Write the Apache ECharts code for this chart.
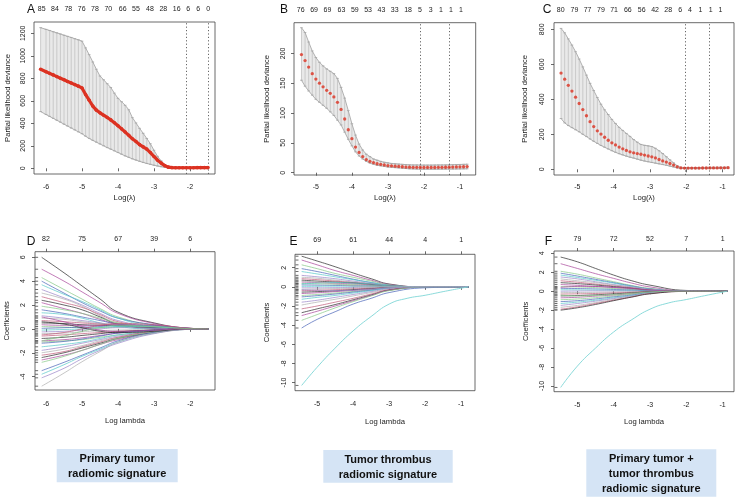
<!DOCTYPE html>
<html><head><meta charset="utf-8">
<script src="https://cdn.jsdelivr.net/npm/echarts@6/dist/echarts.min.js"></script>
<style>html,body{margin:0;padding:0;background:#fff}#c{width:739px;height:500px}</style>
</head><body><div id="c"></div>
<script>
// ---------- Panel A (CV, primary tumor) ----------
const xA = [-6.15,-6.0,-5.9,-5.8,-5.7,-5.6,-5.5,-5.4,-5.3,-5.2,-5.1,-5.0,-4.9,-4.8,-4.7,-4.6,-4.5,-4.4,-4.3,-4.2,-4.1,-4.0,-3.9,-3.8,-3.7,-3.6,-3.5,-3.4,-3.3,-3.2,-3.1,-3.0,-2.9,-2.8,-2.7,-2.6,-2.5,-2.4,-2.3,-2.2,-2.1,-2.0,-1.9,-1.8,-1.7,-1.6,-1.5];
const devA = [880,858,844,830,815,801,787,772,758,744,730,714,655,605,553,517,493,472,452,430,405,378,350,322,293,262,238,210,190,170,140,105,72,46,24,10,6,5,5,5,5,5,5,6,6,6,6];
const upA  = [1250,1235,1225,1214,1204,1194,1183,1173,1163,1152,1142,1130,1070,1010,945,880,820,787,752,718,668,622,592,560,520,450,403,355,311,265,218,160,106,66,32,14,10,9,9,9,9,9,9,9,9,10,10];
const loA  = [504,478,461,444,427,410,392,375,358,341,324,307,285,265,248,232,216,200,184,170,155,140,125,110,97,84,73,62,52,43,35,27,20,14,8,4,2,1,1,1,1,1,2,2,2,2,2];
const topPosA = [-6.12,-5.75,-5.38,-5.01,-4.64,-4.27,-3.87,-3.5,-3.11,-2.74,-2.37,-2.05,-1.77,-1.49];
const topLblA = ['85','84','78','76','78','70','66','55','48','28','16','6','6','0'];
const vlineA = [-2.11, -1.5];

// ---------- Panel B (CV, tumor thrombus) ----------
const xB = [-5.4,-5.3,-5.2,-5.1,-5.0,-4.9,-4.8,-4.7,-4.6,-4.5,-4.4,-4.3,-4.2,-4.1,-4.0,-3.9,-3.8,-3.7,-3.6,-3.5,-3.4,-3.3,-3.2,-3.1,-3.0,-2.9,-2.8,-2.7,-2.6,-2.5,-2.4,-2.3,-2.2,-2.1,-2.0,-1.9,-1.8,-1.7,-1.6,-1.5,-1.4,-1.3,-1.2,-1.1,-1.0,-0.9,-0.8];
const devB = [198,188,177,166,157,150,144,138,133,127,118,106,90,72,57,43,34,27,22,19,17,15,14,13,12,11.5,11,10.5,10,9.5,9.2,9,9,8.8,8.8,8.8,8.8,8.9,9,9,9.1,9.2,9.4,9.6,9.8,10,10.2];
const upB  = [243,235,219,204,193,185,179,174,170,166,158,143,125,104,82,63,48,38,31,27,23,21,19,17.5,16.5,15.5,15,14.5,14,13.5,13.2,13,13,12.8,12.8,12.8,12.8,12.9,13,13,13.1,13.2,13.4,13.6,13.8,14,14.2];
const loB  = [155,145,137,130,123,118,113,108,102,96,88,80,68,56,45,35,28,23,19,16,14,12.5,11.5,10.5,9.5,9,8.5,8,7.5,7,6.5,6.3,6,5.8,5.8,5.8,5.8,5.8,5.9,5.9,6,6,6.1,6.2,6.3,6.4,6.5];
const topPosB = [-5.42,-5.05,-4.68,-4.29,-3.92,-3.55,-3.18,-2.81,-2.44,-2.11,-1.81,-1.53,-1.25,-0.97];
const topLblB = ['76','69','69','63','59','53','43','33','18','5','3','1','1','1'];
const vlineB = [-2.1, -1.3];

// ---------- Panel C (CV, combined) ----------
const xC = [-5.45,-5.35,-5.25,-5.15,-5.05,-4.95,-4.85,-4.75,-4.65,-4.55,-4.45,-4.35,-4.25,-4.15,-4.05,-3.95,-3.85,-3.75,-3.65,-3.55,-3.45,-3.35,-3.25,-3.15,-3.05,-2.95,-2.85,-2.75,-2.65,-2.55,-2.45,-2.35,-2.25,-2.15,-2.05,-1.95,-1.85,-1.75,-1.65,-1.55,-1.45,-1.35,-1.25,-1.15,-1.05,-0.95,-0.85];
const devC = [550,515,480,447,412,376,341,306,272,244,220,201,183,166,151,139,127,117,108,100,94,90,86,81,76,71,65,56,48,41,33,24,14,8,7,7,7,7,7,7.5,7.5,8,8,8,8.5,8.5,9];
const upC  = [805,780,745,710,672,630,585,538,491,450,410,372,340,313,285,262,240,222,205,188,170,155,142,137,134,130,120,106,90,72,54,37,20,11,10,10,10,10,10,10.5,10.5,11,11,11,11.5,11.5,12];
const loC  = [290,265,250,238,226,214,200,187,173,160,148,136,126,116,106,97,89,82,75,69,64,58,52,47,43,39,35,31,27,23,18,13,8,5,4,4,4,4,4,4.5,4.5,5,5,5,5.5,5.5,6];
const topPosC = [-5.46,-5.08,-4.72,-4.35,-3.99,-3.61,-3.23,-2.86,-2.5,-2.17,-1.9,-1.61,-1.33,-1.06];
const topLblC = ['80','79','77','79','71','66','56','42','28','6','4','1','1','1'];
const vlineC = [-2.03, -1.38];

// ---------- Panel D (coefficient paths, primary tumor) ----------
const nodesD = [-6.12,-5.5,-5.0,-4.5,-4.0,-3.0,-2.0,-1.5];
const pathsD = [
 [6.0,4.7,3.6,2.5,1.4,0.5,0.05,0],
 [5.0,4.0,3.1,2.2,1.3,0.45,0.04,0],
 [4.3,3.3,2.5,1.7,1.0,0.3,0.02,0],
 [4.0,3.0,2.2,1.5,0.9,0.35,0.03,0],
 [3.7,2.9,2.3,1.6,0.9,0.2,0.01,0],
 [3.3,2.6,2.0,1.3,0.7,0.15,0,0],
 [3.0,2.5,1.9,1.1,0.5,0.1,0,0],
 [2.7,2.2,1.8,1.2,0.6,0.12,0,0],
 [2.4,2.0,1.6,1.0,0.4,0.05,0,0],
 [2.2,1.7,1.3,0.8,0.4,0.1,0,0],
 [1.9,1.6,1.3,0.9,0.5,0.15,0,0],
 [1.6,1.3,1.0,0.7,0.4,0.1,0,0],
 [1.35,1.2,0.9,0.5,0.2,0.0,0,0],
 [1.1,0.9,0.7,0.5,0.3,0.08,0,0],
 [0.9,0.8,0.6,0.45,0.35,0.2,0.02,0],
 [0.7,0.6,0.5,0.4,0.3,0.1,0,0],
 [0.5,0.45,0.35,0.3,0.25,0.1,0,0],
 [0.35,0.3,0.3,0.3,0.35,0.3,0.05,0],
 [0.2,0.15,0.1,0.1,0.15,0.2,0.03,0],
 [0.05,0.1,0.15,0.2,0.3,0.25,0.04,0],
 [-0.1,-0.05,0,0.1,0.2,0.15,0.02,0],
 [-0.25,-0.2,-0.1,0,0.1,0.05,0,0],
 [-0.4,-0.35,-0.25,-0.15,-0.1,-0.05,0,0],
 [-0.6,-0.5,-0.4,-0.3,-0.2,-0.1,0,0],
 [-0.8,-0.7,-0.55,-0.4,-0.25,-0.1,0,0],
 [-1.0,-0.9,-0.75,-0.55,-0.35,-0.15,-0.01,0],
 [-1.1,-1.0,-0.9,-0.7,-0.5,-0.2,-0.02,0],
 [-1.2,-1.05,-0.85,-0.6,-0.35,-0.1,0,0],
 [-1.5,-1.3,-1.1,-0.8,-0.5,-0.2,0,0],
 [-1.8,-1.5,-1.2,-0.9,-0.6,-0.25,-0.02,0],
 [-2.0,-1.7,-1.4,-1.0,-0.7,-0.35,-0.03,0],
 [-2.2,-1.9,-1.5,-1.1,-0.7,-0.2,0,0],
 [-2.4,-2.0,-1.6,-1.2,-0.8,-0.3,-0.02,0],
 [-2.6,-2.2,-1.8,-1.3,-0.9,-0.3,-0.02,0],
 [-2.8,-2.3,-1.8,-1.3,-0.8,-0.25,0,0],
 [-3.5,-2.8,-2.2,-1.6,-1.0,-0.3,-0.02,0],
 [-3.8,-3.0,-2.3,-1.7,-1.1,-0.35,-0.03,0],
 [-4.1,-3.3,-2.5,-1.8,-1.2,-0.4,-0.03,0],
 [-4.8,-3.7,-2.75,-1.9,-1.1,-0.35,-0.03,0],
 [-0.5,-0.3,0,0.3,0.45,0.35,0.05,0],
 [0.6,0.4,0.1,-0.2,-0.3,-0.2,0,0],
 [1.0,0.6,0.2,-0.1,-0.2,-0.1,0,0],
 [-1.0,-0.6,-0.2,0.1,0.3,0.2,0.02,0]
];
const topPosD = [-6,-5,-4,-3,-2];
const topLblD = ['82','75','67','39','6'];

// ---------- Panel E (coefficient paths, tumor thrombus) ----------
const nodesE = [-5.43,-5.0,-4.5,-4.0,-3.5,-3.0,-2.0,-0.8];
const pathsE = [
 [3.2,2.7,2.1,1.45,0.85,0.3,0,0],
 [2.8,2.3,1.7,1.2,0.7,0.25,0,0],
 [2.3,1.9,1.4,1.0,0.6,0.2,0,0],
 [1.9,1.6,1.2,0.8,0.45,0.15,0,0],
 [1.6,1.35,1.05,0.75,0.45,0.15,0,0],
 [1.2,1.05,0.85,0.6,0.35,0.1,0,0],
 [1.0,0.9,0.7,0.5,0.3,0.1,0,0],
 [0.85,0.75,0.6,0.45,0.3,0.1,0,0],
 [0.7,0.6,0.5,0.4,0.25,0.08,0,0],
 [0.5,0.45,0.38,0.3,0.2,0.06,0,0],
 [0.35,0.32,0.28,0.22,0.15,0.05,0,0],
 [0.2,0.18,0.15,0.12,0.08,0.03,0,0],
 [0.05,0.06,0.07,0.06,0.04,0.02,0,0],
 [-0.1,-0.1,-0.08,-0.06,-0.04,-0.01,0,0],
 [-0.25,-0.22,-0.18,-0.14,-0.09,-0.03,0,0],
 [-0.4,-0.36,-0.3,-0.22,-0.14,-0.05,0,0],
 [-0.55,-0.5,-0.42,-0.3,-0.2,-0.07,0,0],
 [-0.7,-0.62,-0.5,-0.38,-0.25,-0.1,0,0],
 [-0.9,-0.8,-0.65,-0.48,-0.3,-0.12,0,0],
 [-1.05,-0.92,-0.75,-0.55,-0.35,-0.12,0,0],
 [-1.3,-1.1,-0.9,-0.65,-0.4,-0.15,0,0],
 [-1.6,-1.4,-1.1,-0.8,-0.5,-0.2,0,0],
 [-1.9,-1.6,-1.3,-0.95,-0.6,-0.25,-0.02,0],
 [-2.3,-2.0,-1.6,-1.2,-0.75,-0.3,-0.03,0],
 [-2.7,-2.3,-1.85,-1.35,-0.85,-0.35,-0.03,0],
 [-3.0,-2.55,-2.0,-1.45,-0.9,-0.35,-0.03,0],
 [-3.5,-2.9,-2.2,-1.55,-0.95,-0.4,-0.04,0],
 [-4.3,-3.4,-2.6,-1.8,-1.2,-0.6,-0.1,0],
 [0.3,0.4,0.45,0.4,0.3,0.1,0,0],
 [-0.3,-0.35,-0.4,-0.35,-0.25,-0.1,0,0],
 [0.6,0.5,0.3,0.1,0,0,0,0]
];
const bigNodesE = [-5.43,-5.0,-4.5,-4.0,-3.5,-3.0,-2.5,-2.0,-1.5,-0.8];
const bigPathE = [-10.3,-8.4,-6.4,-4.6,-3.1,-1.8,-1.2,-0.88,-0.5,0];
const topPosE = [-5,-4,-3,-2,-1];
const topLblE = ['69','61','44','4','1'];

// ---------- Panel F (coefficient paths, combined) ----------
const nodesF = [-5.46,-5.0,-4.5,-4.0,-3.5,-3.0,-2.0,-0.87];
const pathsF = [
 [3.6,3.1,2.4,1.7,1.1,0.64,0.08,0],
 [2.9,2.4,1.85,1.35,0.85,0.45,0.03,0],
 [2.1,1.8,1.4,1.0,0.6,0.3,0,0],
 [1.9,1.6,1.25,0.9,0.55,0.25,0,0],
 [1.7,1.45,1.15,0.85,0.5,0.2,0,0],
 [1.5,1.3,1.0,0.7,0.45,0.2,0,0],
 [1.3,1.1,0.9,0.65,0.4,0.15,0,0],
 [1.1,0.95,0.75,0.55,0.35,0.12,0,0],
 [0.9,0.8,0.65,0.48,0.3,0.1,0,0],
 [0.7,0.62,0.5,0.38,0.25,0.08,0,0],
 [0.5,0.45,0.38,0.28,0.18,0.06,0,0],
 [0.3,0.28,0.24,0.18,0.12,0.04,0,0],
 [0.15,0.14,0.12,0.1,0.06,0.02,0,0],
 [0.0,0.02,0.03,0.03,0.02,0.01,0,0],
 [-0.15,-0.14,-0.12,-0.09,-0.06,-0.02,0,0],
 [-0.3,-0.28,-0.24,-0.18,-0.12,-0.04,0,0],
 [-0.5,-0.46,-0.38,-0.28,-0.18,-0.06,0,0],
 [-0.7,-0.64,-0.52,-0.4,-0.26,-0.1,0,0],
 [-0.9,-0.82,-0.68,-0.5,-0.32,-0.12,0,0],
 [-1.1,-1.0,-0.82,-0.6,-0.4,-0.15,0,0],
 [-1.3,-1.15,-0.95,-0.7,-0.45,-0.18,0,0],
 [-1.5,-1.3,-1.05,-0.78,-0.5,-0.2,0,0],
 [-1.7,-1.5,-1.2,-0.88,-0.55,-0.22,-0.01,0],
 [-1.9,-1.65,-1.3,-0.95,-0.6,-0.25,-0.02,0],
 [-2.0,-1.75,-1.4,-1.0,-0.62,-0.28,-0.02,0],
 [0.4,0.5,0.5,0.4,0.3,0.12,0,0],
 [-0.4,-0.5,-0.45,-0.35,-0.22,-0.08,0,0]
];
const bigNodesF = [-5.46,-5.0,-4.5,-4.0,-3.5,-3.0,-2.5,-2.0,-1.5,-0.87];
const bigPathF = [-10.15,-7.9,-6.0,-4.3,-3.0,-1.9,-1.25,-0.88,-0.48,0];
const topPosF = [-5,-4,-3,-2,-1];
const topLblF = ['79','72','52','7','1'];

// ---------- tick values ----------
const xTicks6 = [-6,-5,-4,-3,-2];
const xTicks5 = [-5,-4,-3,-2,-1];
const yTicksA = [0,200,400,600,800,1000,1200];
const yTicksB = [0,50,100,150,200];
const yTicksC = [0,200,400,600,800];
const yTicksD = [-4,-2,0,2,4,6];
const yTicksE = [-10,-8,-6,-4,-2,0,2];
const yTicksF = [-10,-8,-6,-4,-2,0,2,4];

const labelsBottom = ['Primary tumor\nradiomic signature','Tumor thrombus\nradiomic signature','Primary tumor +\ntumor thrombus\nradiomic signature'];
const panelLetters = ['A','B','C','D','E','F'];

// ---------- styling ----------
const FONT = '"Liberation Sans", Arial, Helvetica, sans-serif';
const TXT = '#222';
const RED = '#dc3222';
const palette = ['#2b2b2b','#a8479a','#86c986','#4a64b8','#56c8c8','#9a86c8','#b0b0b0','#c05a7a'];

const grids = [
  {left:34, top:22, width:181, height:152},
  {left:294, top:22.7, width:181.7, height:152.3},
  {left:554, top:22.7, width:180, height:152.3},
  {left:35, top:251.7, width:180, height:138.3},
  {left:295, top:254.3, width:180, height:136.4},
  {left:554, top:251, width:180, height:140.7}
].map(g => Object.assign({show:true, borderColor:'#444', borderWidth:0.8, backgroundColor:'transparent', containLabel:false, outerBoundsMode:'none'}, g));

const xAxes = [], yAxes = [], series = [];

function lookup(pos, lbl) {
  return function (v) {
    for (let i = 0; i < pos.length; i++) if (Math.abs(pos[i] - v) < 1e-6) return lbl[i];
    return '';
  };
}
const plain = v => String(v);

function addAxes(p, o) {
  const tickStyle = {color:'#444', width:0.8};
  xAxes.push({
    gridIndex:p, type:'value', min:o.xmin, max:o.xmax, position:'bottom',
    axisLine:{show:false}, splitLine:{show:false},
    axisTick:{show:true, length:3, customValues:o.xticks, lineStyle:tickStyle},
    axisLabel:{customValues:o.xticks, formatter:plain, fontSize:7, color:TXT, margin:o.xmargin, fontFamily:FONT},
    name:o.xname, nameLocation:'middle', nameGap:o.xgap,
    nameTextStyle:{fontSize:7.7, color:TXT, fontFamily:FONT}
  });
  xAxes.push({
    gridIndex:p, type:'value', min:o.xmin, max:o.xmax, position:'top',
    axisLine:{show:false}, splitLine:{show:false},
    axisTick:{show:o.topTick, length:3, customValues:o.topPos, lineStyle:tickStyle},
    axisLabel:{customValues:o.topPos, formatter:lookup(o.topPos, o.topLbl), fontSize:7, color:TXT, margin:o.topMargin, fontFamily:FONT}
  });
  yAxes.push({
    gridIndex:p, type:'value', min:o.ymin, max:o.ymax,
    axisLine:{show:false}, splitLine:{show:false},
    axisTick:{show:true, length:3, customValues:o.yticks, lineStyle:tickStyle},
    axisLabel:{customValues:o.yticks, formatter:plain, rotate:90, fontSize:7, color:TXT, margin:o.ymargin, fontFamily:FONT},
    name:o.yname, nameLocation:'middle', nameRotate:90, nameGap:o.ygap,
    nameTextStyle:{fontSize:7.6, color:TXT, fontFamily:FONT}
  });
}

function addCV(p, xs, dev, up, lo, vlines, asLine) {
  const xi = p*2, yi = p;
  series.push({
    type:'custom', xAxisIndex:xi, yAxisIndex:yi, silent:true, z:1,
    data:[[xs[0], lo[0]]],
    renderItem:function (params, api) {
      const pts = [];
      for (let i = 0; i < xs.length; i++) pts.push(api.coord([xs[i], up[i]]));
      for (let i = xs.length - 1; i >= 0; i--) pts.push(api.coord([xs[i], lo[i]]));
      return {type:'polygon', shape:{points:pts}, style:{fill:'#e9e9e9'}};
    }
  });
  series.push({
    type:'custom', xAxisIndex:xi, yAxisIndex:yi, silent:true, z:2,
    data:xs.map((x,i)=>[x, lo[i], up[i]]),
    encode:{x:0, y:[1,2]},
    renderItem:function (params, api) {
      const a = api.coord([api.value(0), api.value(1)]);
      const b = api.coord([api.value(0), api.value(2)]);
      return {type:'group', children:[
        {type:'line', shape:{x1:a[0], y1:a[1], x2:b[0], y2:b[1]}, style:{stroke:'#c2c2c2', lineWidth:0.8}},
        {type:'line', shape:{x1:a[0]-1.3, y1:a[1], x2:a[0]+1.3, y2:a[1]}, style:{stroke:'#a0a0a0', lineWidth:0.8}},
        {type:'line', shape:{x1:b[0]-1.3, y1:b[1], x2:b[0]+1.3, y2:b[1]}, style:{stroke:'#a0a0a0', lineWidth:0.8}}
      ]};
    }
  });
  [up, lo].forEach(arr => series.push({
    type:'line', xAxisIndex:xi, yAxisIndex:yi, silent:true, z:3, showSymbol:false,
    data:xs.map((x,i)=>[x, arr[i]]), lineStyle:{color:'#a8a8a8', width:0.9}
  }));
  const ml = {
    silent:true, symbol:['none','none'], label:{show:false}, animation:false,
    lineStyle:{type:[1.2,2.2], color:'#555', width:0.9},
    data:vlines.map(v=>({xAxis:v}))
  };
  if (asLine) {
    series.push({
      type:'line', xAxisIndex:xi, yAxisIndex:yi, silent:true, z:5,
      data:xs.map((x,i)=>[x, dev[i]]), showSymbol:true, symbol:'circle', symbolSize:3.6,
      itemStyle:{color:RED}, lineStyle:{color:RED, width:3.2}, markLine:ml
    });
  } else {
    series.push({
      type:'scatter', xAxisIndex:xi, yAxisIndex:yi, silent:true, z:5,
      data:xs.map((x,i)=>[x, dev[i]]), symbol:'circle', symbolSize:3.3,
      itemStyle:{color:RED}, markLine:ml
    });
  }
}

function addPaths(p, nodes, paths, bigNodes, big, rugX) {
  const xi = p*2, yi = p;
  paths.forEach((vals, i) => series.push({
    type:'line', xAxisIndex:xi, yAxisIndex:yi, silent:true, showSymbol:false, smooth:0.5,
    data:nodes.map((x,j)=>[x, vals[j]]),
    lineStyle:{width:0.8, color:palette[i % palette.length], opacity:0.9}
  }));
  const starts = paths.map(v => v[0]);
  if (big) {
    series.push({
      type:'line', xAxisIndex:xi, yAxisIndex:yi, silent:true, showSymbol:false, smooth:0.5,
      data:bigNodes.map((x,j)=>[x, big[j]]),
      lineStyle:{width:0.9, color:'#7ed6d6'}
    });
    starts.push(big[0]);
  }
  series.push({
    type:'scatter', xAxisIndex:xi, yAxisIndex:yi, silent:true, clip:false, z:6,
    symbol:'rect', symbolSize:[3,1],
    data:starts.map(v=>[rugX, v]), itemStyle:{color:'#444'}
  });
}

// Axes
addAxes(0,{xmin:-6.334,xmax:-1.304,xticks:xTicks6,xname:'Log(\u03bb)',xgap:20,xmargin:10,
  topPos:topPosA,topLbl:topLblA,topTick:false,topMargin:9,
  ymin:-50.7,ymax:1300.4,yticks:yTicksA,ymargin:7,yname:'Partial likelihood deviance',ygap:22});
addAxes(1,{xmin:-5.607,xmax:-0.563,xticks:xTicks5,xname:'Log(\u03bb)',xgap:19,xmargin:9,
  topPos:topPosB,topLbl:topLblB,topTick:false,topMargin:9.5,
  ymin:-3.85,ymax:251.4,yticks:yTicksB,ymargin:7.5,yname:'Partial likelihood deviance',ygap:23.5});
addAxes(2,{xmin:-5.644,xmax:-0.686,xticks:xTicks5,xname:'Log(\u03bb)',xgap:19,xmargin:9,
  topPos:topPosC,topLbl:topLblC,topTick:false,topMargin:9.5,
  ymin:-32.6,ymax:837.7,yticks:yTicksC,ymargin:8,yname:'Partial likelihood deviance',ygap:25});
addAxes(3,{xmin:-6.305,xmax:-1.315,xticks:xTicks6,xname:'Log lambda',xgap:27,xmargin:10.5,
  topPos:topPosD,topLbl:topLblD,topTick:true,topMargin:9,
  ymin:-5.12,ymax:6.47,yticks:yTicksD,ymargin:8.5,yname:'Coefficients',ygap:24.5});
addAxes(4,{xmin:-5.615,xmax:-0.615,xticks:xTicks5,xname:'Log lambda',xgap:27,xmargin:10,
  topPos:topPosE,topLbl:topLblE,topTick:true,topMargin:11,
  ymin:-10.85,ymax:3.4,yticks:yTicksE,ymargin:7.5,yname:'Coefficients',ygap:24.5});
addAxes(5,{xmin:-5.644,xmax:-0.686,xticks:xTicks5,xname:'Log lambda',xgap:26,xmargin:9.5,
  topPos:topPosF,topLbl:topLblF,topTick:true,topMargin:8,
  ymin:-10.6,ymax:4.24,yticks:yTicksF,ymargin:8,yname:'Coefficients',ygap:24});

// Series
addCV(0, xA, devA, upA, loA, vlineA, true);
addCV(1, xB, devB, upB, loB, vlineB, false);
addCV(2, xC, devC, upC, loC, vlineC, false);
addPaths(3, nodesD, pathsD, null, null, -6.26);
addPaths(4, nodesE, pathsE, bigNodesE, bigPathE, -5.56);
addPaths(5, nodesF, pathsF, bigNodesF, bigPathF, -5.59);

// Graphic: panel letters and signature boxes
const letterPos = [[31,10],[284,10],[547,10],[31,242],[293.5,242],[548.5,242]];
const boxes = [[56.7,449,121,33.3],[323.3,450,129.4,32.7],[586.3,449.3,130,47.4]];
const graphic = [];
panelLetters.forEach((t,i)=>graphic.push({
  type:'text', x:letterPos[i][0], y:letterPos[i][1], silent:true,
  style:{text:t, font:'12px ' + FONT, fill:'#111', textAlign:'center', textVerticalAlign:'middle'}
}));
boxes.forEach((b,i)=>{
  graphic.push({type:'rect', silent:true, shape:{x:b[0], y:b[1], width:b[2], height:b[3]}, style:{fill:'#d5e4f5'}});
  graphic.push({type:'text', silent:true, x:b[0]+b[2]/2, y:b[1]+b[3]/2+1,
    style:{text:labelsBottom[i], font:'bold 11px ' + FONT, fill:'#111', textAlign:'center', textVerticalAlign:'middle', lineHeight:14.6}});
});

const chart = echarts.init(document.getElementById('c'), null, {renderer:'canvas'});
chart.setOption({
  animation:false,
  backgroundColor:'#ffffff',
  grid:grids, xAxis:xAxes, yAxis:yAxes, series:series, graphic:graphic
});
</script></body></html>
